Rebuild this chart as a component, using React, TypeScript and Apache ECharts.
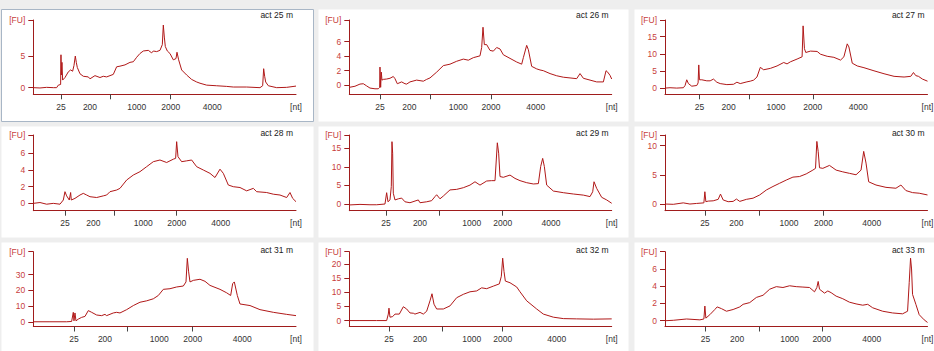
import React, { useEffect, useRef } from 'react';
import * as echarts from 'echarts';

type Pt = [number, number];

// x = migration index (a.u.), y = fluorescence [FU]
const act25: Pt[] = [[0,0],[20,-0.05],[40,0.05],[60,0],[70,0],[75,0.4],[82,0.5],[83,5.2],[84,2.0],[86,4.0],[88,1.2],[95,1.6],[105,2.5],[112,2.8],[118,2.6],[122,3.5],[126,5.0],[129,4.0],[132,3.2],[140,2.2],[150,1.8],[165,1.7],[170,1.4],[185,1.9],[200,1.6],[210,1.8],[220,1.7],[240,2.1],[250,3.3],[260,3.4],[275,3.6],[290,4.0],[300,4.1],[310,4.8],[320,5.4],[330,5.8],[345,5.9],[355,5.5],[360,5.8],[370,5.7],[380,5.9],[387,6.8],[390,9.9],[393,8.0],[396,6.5],[402,5.8],[410,5.4],[420,4.4],[428,4.6],[431,5.6],[436,4.4],[445,2.8],[460,2.0],[475,1.3],[490,0.9],[500,0.7],[520,0.4],[550,0.3],[580,0.2],[600,0.1],[640,0.1],[680,0.0],[688,0.3],[691,3.0],[694,1.8],[697,0.9],[705,0.3],[730,0.0],[760,0.05],[788,0.25]];
const act26: Pt[] = [[0,-0.3],[17,-0.15],[32,0.15],[42,0.2],[52,-0.1],[62,-0.4],[77,-0.5],[87,-0.5],[91,-0.3],[92,2.5],[94,-0.3],[96,1.8],[98,0.7],[102,0.8],[112,0.85],[122,0.95],[132,1.2],[137,0.9],[144,0.2],[157,0.45],[167,0.2],[172,0.15],[182,0.45],[202,0.7],[222,0.55],[232,0.8],[242,1.0],[262,1.8],[282,2.7],[302,2.9],[322,3.3],[342,3.6],[357,3.45],[372,3.8],[392,4.05],[397,5.2],[401,8.0],[405,5.6],[412,5.6],[422,4.8],[432,4.7],[442,5.2],[452,5.0],[462,4.2],[482,3.7],[502,3.2],[517,2.9],[522,3.8],[532,5.5],[537,4.9],[547,2.6],[562,2.25],[572,2.1],[582,2.0],[602,1.6],[622,1.3],[642,1.1],[662,1.0],[682,0.9],[692,1.6],[702,0.95],[722,0.7],[742,0.45],[762,0.45],[770,2.0],[775,1.8],[782,1.35],[787,0.85]];
const act27: Pt[] = [[0,0.1],[15,0.2],[35,0.1],[55,0.2],[60,0.85],[65,2.5],[70,1.4],[80,0.65],[95,0.85],[99,1.6],[101,6.8],[103,2.5],[110,2.5],[125,2.2],[135,2.2],[145,2.7],[155,1.8],[165,1.4],[185,1.1],[205,1.2],[215,1.8],[225,1.4],[245,1.9],[255,2.1],[265,2.4],[275,3.3],[285,6.1],[295,5.4],[315,5.8],[335,6.5],[355,7.5],[365,7.1],[375,7.7],[395,8.5],[410,9.15],[413,18.1],[417,11.5],[421,10.4],[435,10.8],[455,10.7],[465,9.9],[485,9.3],[505,9.0],[525,8.2],[535,9.15],[545,12.9],[550,12.0],[560,7.3],[575,6.5],[595,6.0],[625,5.1],[655,4.25],[685,3.5],[715,3.3],[735,3.5],[743,4.6],[750,3.7],[758,3.5],[770,2.7],[785,2.1]];
const act28: Pt[] = [[0,0],[20,0.1],[40,-0.1],[60,0],[80,-0.1],[90,0.4],[95,1.4],[100,0.9],[108,0.4],[112,1.3],[114,0.4],[125,0.6],[140,1.0],[150,1.2],[160,1.0],[170,0.8],[190,0.7],[210,0.9],[220,1.0],[230,1.4],[250,1.6],[260,1.8],[280,2.8],[300,3.4],[320,3.8],[340,4.4],[360,5.0],[380,5.2],[400,4.9],[420,5.3],[427,5.4],[430,7.4],[434,5.6],[445,5.0],[460,5.1],[475,5.2],[490,4.4],[510,4.0],[530,3.6],[545,3.1],[560,4.1],[570,3.6],[585,2.2],[600,2.0],[620,1.9],[640,1.5],[660,1.8],[670,1.4],[700,1.3],[720,1.1],[740,1.0],[760,0.7],[770,1.3],[778,0.6],[788,0.2]];
const act29: Pt[] = [[0,-0.25],[32,-0.1],[62,-0.2],[82,-0.2],[107,0],[112,3.05],[116,0.6],[122,1.1],[126,4.7],[128,16.8],[130,13.7],[132,2.9],[137,1.1],[147,1.4],[157,1.6],[167,0.6],[182,0.35],[207,1.1],[212,0.35],[232,0.6],[247,0.9],[257,2.0],[262,2.5],[272,1.4],[282,2.15],[302,3.8],[322,3.95],[342,4.4],[362,5.1],[377,6.0],[392,5.1],[412,6.2],[427,6.3],[437,6.3],[444,16.5],[448,13.7],[452,7.4],[462,7.2],[482,7.8],[497,6.9],[512,6.3],[532,5.75],[552,5.4],[567,5.5],[574,10.1],[580,12.3],[585,10.1],[592,5.1],[612,3.5],[642,3.05],[672,2.7],[702,2.4],[722,2.0],[730,3.3],[734,6.0],[742,4.2],[757,1.8],[772,1.1],[787,0.2]];
const act30: Pt[] = [[0,0],[25,-0.05],[55,0.2],[75,0],[95,0.1],[117,0.2],[120,2.1],[123,0.4],[130,0.5],[145,0.55],[160,0.8],[167,1.7],[175,0.7],[190,0.4],[205,0.45],[215,0.85],[225,0.45],[245,0.8],[265,1.0],[285,1.55],[305,2.4],[325,3.0],[345,3.55],[365,4.1],[385,4.6],[405,4.7],[425,5.15],[445,5.8],[453,6.1],[457,10.7],[461,9.0],[465,6.2],[475,6.1],[495,6.6],[515,5.8],[535,5.5],[555,5.25],[575,5.0],[590,5.8],[598,9.0],[605,7.0],[613,3.8],[635,3.25],[665,2.85],[695,2.7],[710,3.25],[725,2.3],[745,1.95],[765,1.85],[790,1.55]];
const act31: Pt[] = [[0,0],[50,0],[100,0],[115,0.2],[120,6.0],[122,0.6],[125,5.6],[128,0.6],[135,1.7],[145,2.8],[155,3.4],[165,7.1],[175,6.0],[190,4.3],[205,3.9],[215,4.7],[220,3.9],[240,5.6],[250,6.0],[260,5.6],[280,7.7],[300,10.3],[320,12.4],[340,13.3],[360,14.6],[375,16.7],[390,20.6],[410,21.0],[430,22.1],[450,22.7],[458,25.3],[462,40.3],[466,31.7],[470,25.3],[480,26.3],[500,27.0],[515,25.7],[530,23.1],[560,20.6],[580,18.4],[592,16.7],[598,24.2],[603,25.3],[612,16.7],[620,11.3],[650,10.3],[680,7.7],[720,6.0],[760,4.7],[788,3.9]];
const act32: Pt[] = [[0,0],[32,0],[82,0],[112,0],[117,2.3],[119,4.4],[122,1.2],[130,1.4],[137,2.3],[150,2.3],[162,4.9],[172,4.1],[182,2.7],[192,2.6],[197,2.3],[212,2.9],[222,2.3],[232,3.3],[242,7.0],[248,9.5],[254,5.8],[262,4.1],[282,4.1],[302,5.2],[322,8.1],[342,9.3],[362,10.2],[382,10.5],[397,11.6],[412,11.3],[432,12.2],[450,13.0],[456,15.7],[460,22.1],[464,17.4],[468,14.0],[482,13.4],[502,11.9],[512,10.2],[532,7.0],[562,4.1],[582,2.3],[612,1.2],[642,0.7],[682,0.6],[732,0.5],[787,0.6]];
const act33: Pt[] = [[0,0],[25,0.05],[65,0.2],[105,0.1],[117,0.2],[120,1.7],[123,0.3],[135,0.7],[150,1.3],[157,1.6],[170,1.4],[185,1.1],[205,1.3],[225,1.6],[235,1.9],[255,2.1],[275,2.7],[295,2.95],[315,3.65],[335,3.95],[355,3.85],[375,4.05],[395,3.95],[415,3.9],[435,3.85],[450,3.35],[457,3.85],[461,4.55],[465,3.65],[480,3.2],[490,3.45],[500,3.25],[515,2.85],[535,2.55],[555,2.15],[575,1.95],[595,1.8],[610,1.9],[625,1.5],[655,1.1],[685,0.9],[715,0.8],[730,1.1],[735,4.45],[739,7.25],[742,6.0],[745,3.05],[755,1.9],[765,0.7],[780,0.1],[790,-0.2]];

const TITLES = ['act 25 m', 'act 26 m', 'act 27 m', 'act 28 m', 'act 29 m', 'act 30 m', 'act 31 m', 'act 32 m', 'act 33 m'];
const TRACES = [act25, act26, act27, act28, act29, act30, act31, act32, act33];

// size-marker labels on the x axis (migration positions per run)
const MARKER_LABELS = ['25', '200', '', '1000', '2000', '4000'];
const MARKER_POS: number[][] = [
  [83, 170, 230, 310, 412, 537],
  [92, 180, 242, 327, 425, 559],
  [103, 190, 253, 332, 442, 578],
  [95, 180, 243, 330, 430, 562],
  [110, 212, 270, 367, 460, 605],
  [120, 215, 283, 373, 477, 622],
  [122, 215, 283, 378, 478, 627],
  [119, 212, 280, 367, 460, 622],
  [122, 217, 283, 375, 472, 622],
];
const X_MAX = [788, 787, 785, 788, 787, 790, 788, 787, 790];

const Y_TICKS: number[][] = [
  [0, 5], [0, 2, 4, 6], [0, 5, 10, 15],
  [0, 2, 4, 6], [0, 5, 10, 15], [0, 5, 10],
  [0, 10, 20, 30], [0, 5, 10, 15, 20], [0, 2, 4, 6],
];
const Y_RANGE: [number, number][] = [
  [-1.05, 10.7], [-1.26, 9.0], [-1.7, 19.8],
  [-0.88, 8.2], [-1.8, 18.6], [-1.14, 11.8],
  [-3.0, 44.5], [-2.1, 24.4], [-0.67, 8.0],
];

// layout (pixels)
const COL_AXIS: [number, number][] = [[33.3, 296], [349.3, 611.7], [665, 927.5]];
const ROW_AXIS: [number, number][] = [[20, 94.3], [135, 210.7], [251.7, 326.5]];
const COL_PANEL: [number, number][] = [[1, 313], [318, 628], [634, 934]];
const ROW_PANEL: [number, number][] = [[9, 121], [126, 237], [242, 351]];
const TITLE_Y = [15, 133, 250];

const FONT = 'Liberation Sans, Arial, sans-serif';
const TRACE_COLOR = '#b01818';
const AXIS_COLOR = '#a01c1c';
const YLABEL_COLOR = '#c8403c';

export default function App() {
  const ref = useRef<HTMLDivElement>(null);
  useEffect(() => {
    document.body.style.margin = '0';
    if (!ref.current) return;
    const chart = echarts.init(ref.current, undefined, { renderer: 'svg' });

    const graphic: any[] = [];
    const grid: any[] = [];
    const xAxis: any[] = [];
    const yAxis: any[] = [];
    const series: any[] = [];

    for (let i = 0; i < 9; i++) {
      const r = Math.floor(i / 3);
      const c = i % 3;
      const [pl, pr] = COL_PANEL[c];
      const [pt, pb] = ROW_PANEL[r];
      graphic.push({
        type: 'rect', z: -10,
        shape: { x: pl + 0.5, y: pt + 0.5, width: pr - pl, height: pb - pt },
        style: { fill: '#ffffff', stroke: i === 0 ? '#a8b6c6' : null, lineWidth: 1 },
      });
      const [al, ar] = COL_AXIS[c];
      const [at, ab] = ROW_AXIS[r];
      graphic.push({
        type: 'text', z: 5,
        x: ar - 3, y: TITLE_Y[r],
        style: { text: TITLES[i], align: 'right', verticalAlign: 'middle', fill: '#222', font: `8.5px ${FONT}` },
      });
      grid.push({ left: al, top: at, width: ar - al, height: ab - at, containLabel: false, outerBoundsMode: 'none' });

      const pos = MARKER_POS[i];
      const xmax = X_MAX[i];
      xAxis.push({
        type: 'value', gridIndex: i, min: 0, max: xmax,
        axisLine: { show: true, onZero: false, lineStyle: { color: AXIS_COLOR, width: 1 } },
        axisTick: { show: true, length: 5, customValues: [pos[0], pos[2], pos[4]], lineStyle: { color: '#444' } },
        axisLabel: {
          show: true, margin: 8, color: '#333', fontSize: 8.5, fontFamily: FONT,
          customValues: [...pos.filter((_, k) => MARKER_LABELS[k] !== ''), xmax],
          formatter: (v: number) => {
            if (Math.abs(v - xmax) < 1e-6) return '[nt]';
            const k = pos.findIndex((p) => Math.abs(p - v) < 1e-6);
            return k >= 0 ? MARKER_LABELS[k] : '';
          },
        },
        splitLine: { show: false },
      });
      const [ymin, ymax] = Y_RANGE[i];
      const yt = Y_TICKS[i];
      yAxis.push({
        type: 'value', gridIndex: i, min: ymin, max: ymax,
        axisLine: { show: true, lineStyle: { color: AXIS_COLOR, width: 1 } },
        axisTick: { show: true, length: 5, customValues: [...yt, ymax], lineStyle: { color: AXIS_COLOR } },
        axisLabel: {
          show: true, margin: 8, color: YLABEL_COLOR, fontSize: 8.5, fontFamily: FONT,
          customValues: [...yt, ymax],
          formatter: (v: number) => (Math.abs(v - ymax) < 1e-6 ? '[FU]' : String(v)),
        },
        splitLine: { show: false },
      });
      series.push({
        type: 'line', xAxisIndex: i, yAxisIndex: i, data: TRACES[i],
        showSymbol: false, symbol: 'none', clip: true,
        lineStyle: { color: TRACE_COLOR, width: 1 },
      });
    }

    chart.setOption({
      animation: false,
      backgroundColor: '#eeeeee',
      graphic,
      grid,
      xAxis,
      yAxis,
      series,
    });
    return () => chart.dispose();
  }, []);
  return <div ref={ref} style={{ width: 934, height: 351 }} />;
}
